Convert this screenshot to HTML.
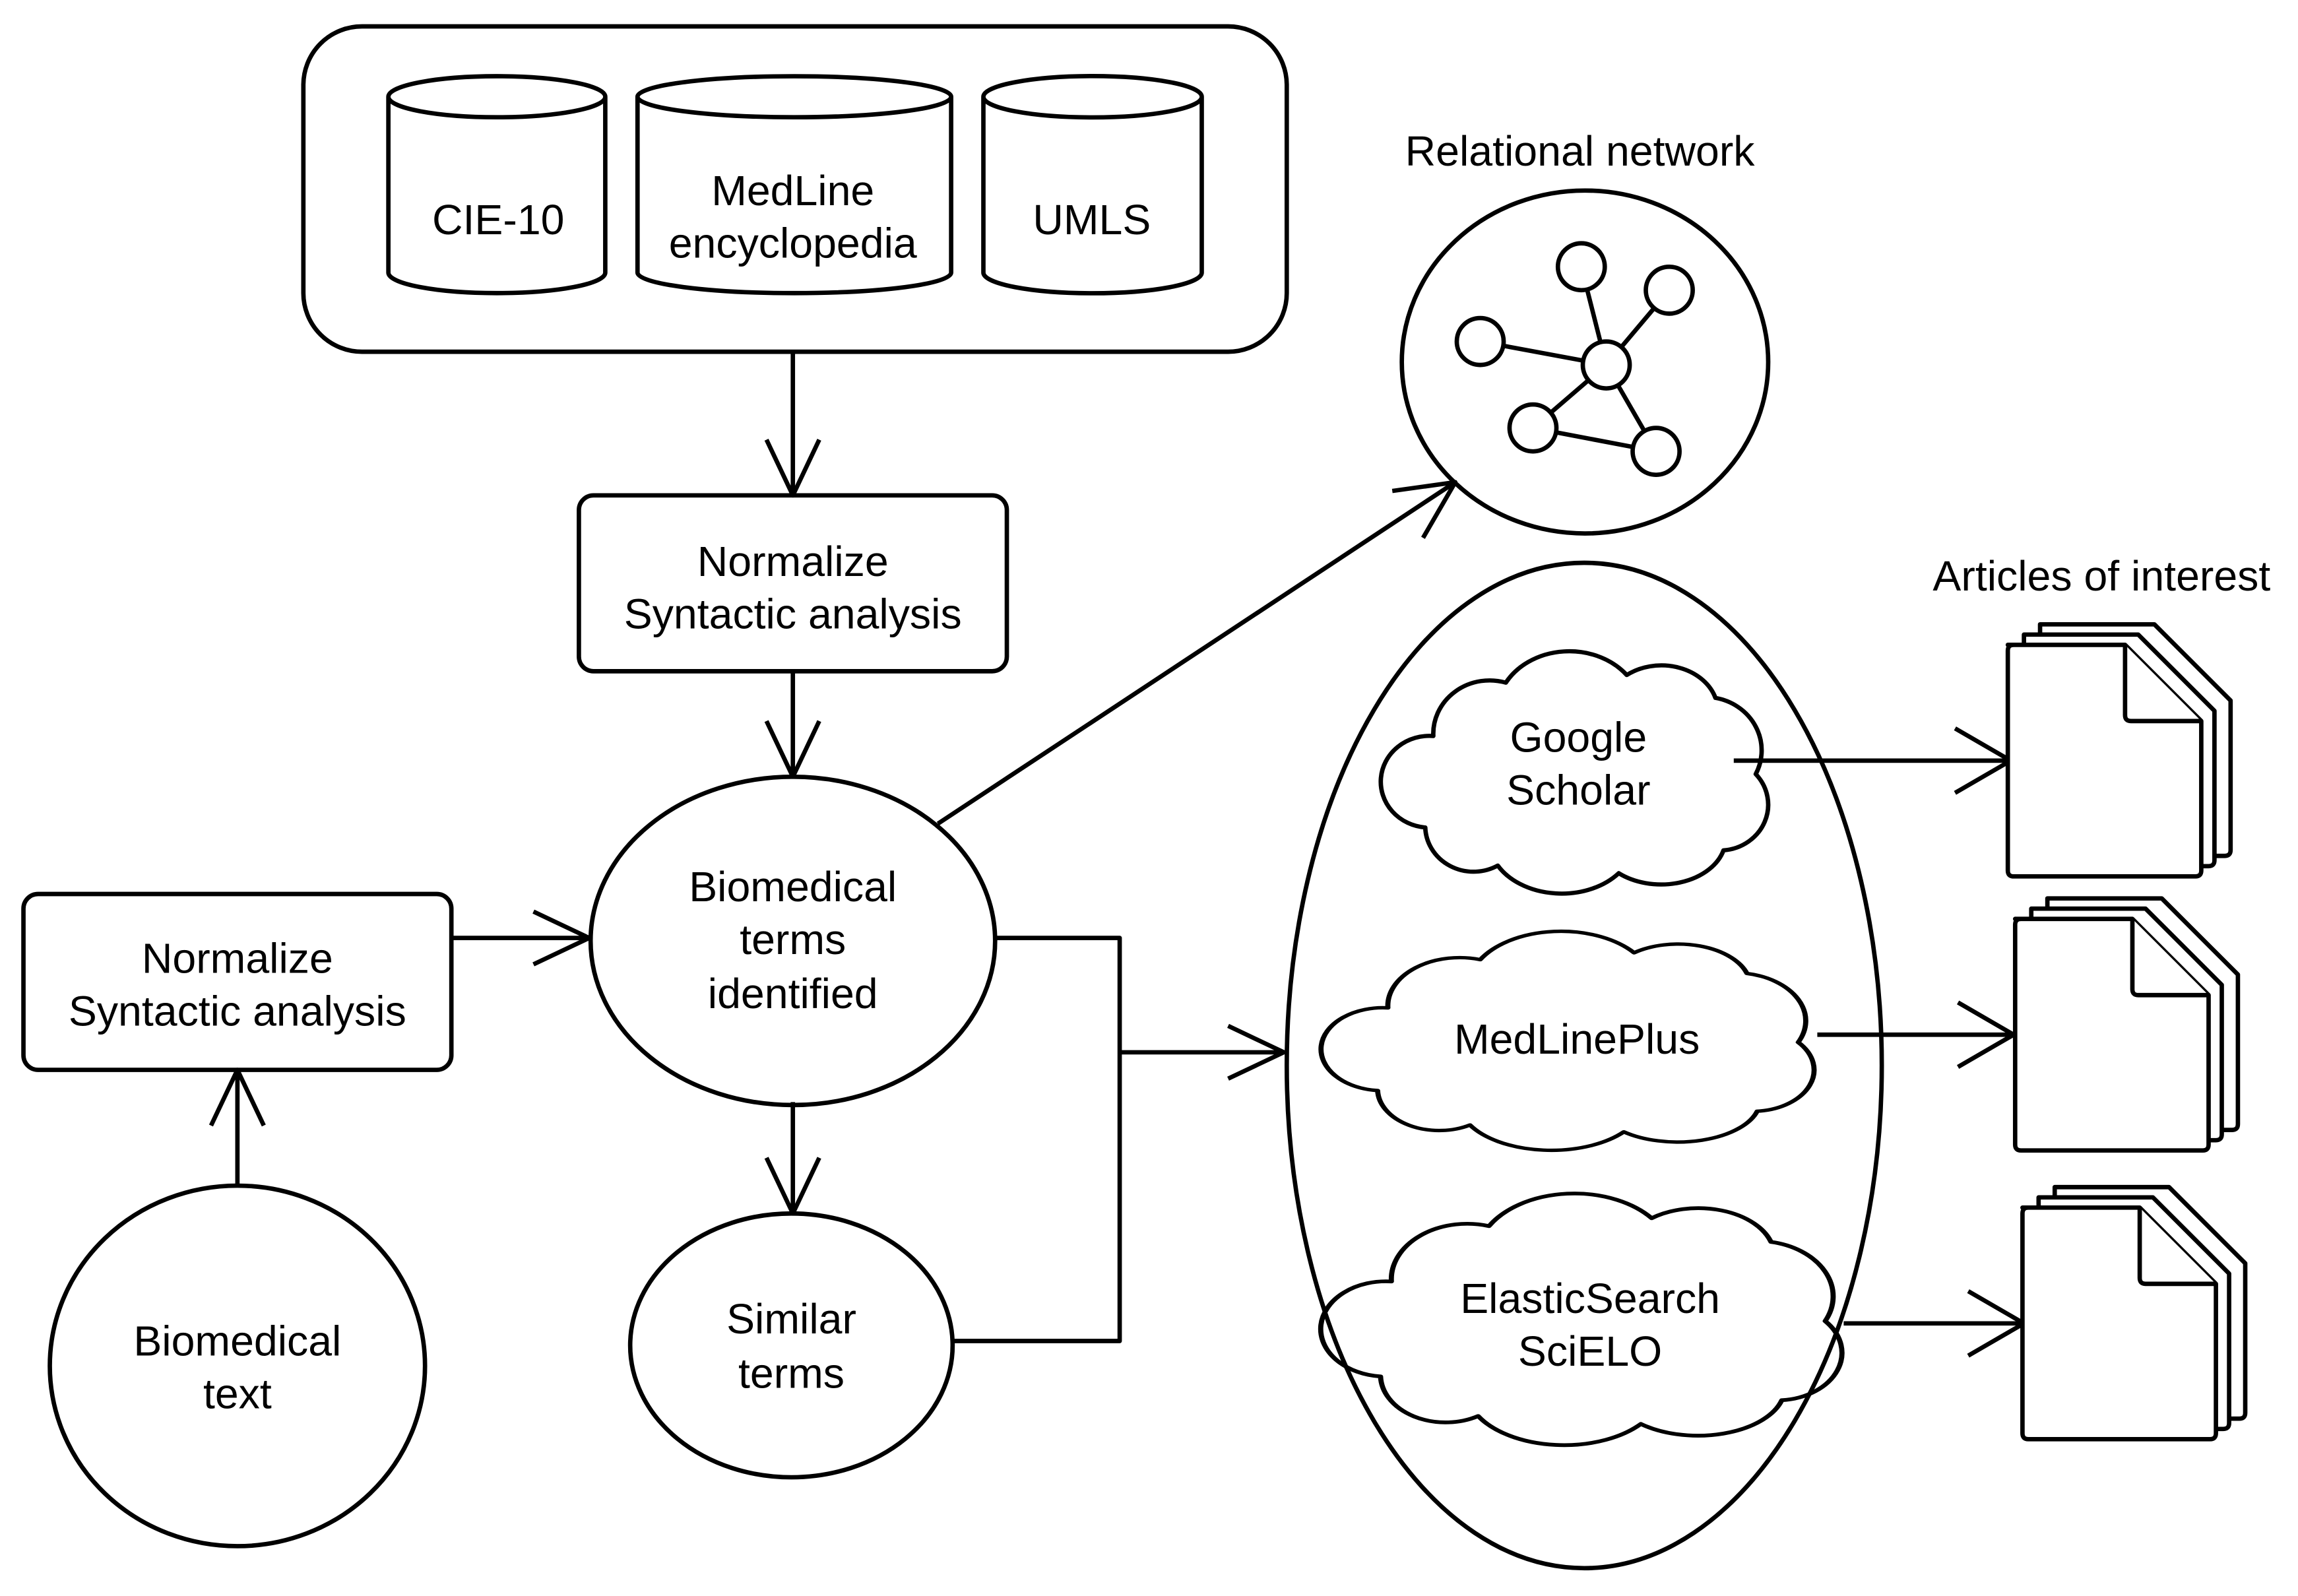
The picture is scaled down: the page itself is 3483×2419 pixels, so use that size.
<!DOCTYPE html>
<html><head><style>html,body{margin:0;padding:0;background:#fff}svg{display:block}
text{font-family:"Liberation Sans",Arial,sans-serif;font-size:29px;fill:#000;text-anchor:middle;dominant-baseline:central}</style></head>
<body>
<svg width="3483" height="2419" viewBox="0 0 1568 1089" xmlns="http://www.w3.org/2000/svg">
<g fill="none" stroke="#000" stroke-width="3" stroke-linejoin="round">
<rect x="207" y="18" width="671" height="222" rx="40"/>
<path d="M265,66 V186 A74,14 0 0 0 413,186 V66 A74,14 0 0 0 265,66 A74,14 0 0 0 413,66" fill="#fff"/>
<path d="M435,66 V186 A107,14 0 0 0 649,186 V66 A107,14 0 0 0 435,66 A107,14 0 0 0 649,66" fill="#fff"/>
<path d="M671,66 V186 A74,14 0 0 0 820,186 V66 A74,14 0 0 0 671,66 A74,14 0 0 0 820,66" fill="#fff"/>
<path d="M541,240 V338 M523,300 L541,338 L559,300"/>
<rect x="395" y="338" width="292" height="120" rx="10"/>
<path d="M541,458 V530 M523,492 L541,530 L559,492"/>
<ellipse cx="541" cy="642" rx="138" ry="112"/>
<rect x="16" y="610" width="292" height="120" rx="10"/>
<path d="M308,640 H402 M364,622 L402,640 L364,658"/>
<ellipse cx="162" cy="932" rx="128" ry="123"/>
<path d="M162,808 V730 M144,768 L162,730 L180,768"/>
<path d="M541,752 V828 M523,790 L541,828 L559,790"/>
<ellipse cx="540" cy="918" rx="110" ry="90"/>
<path d="M679,640 H764 V915 H651 M764,718 H876 M838,700 L876,718 L838,736"/>
<ellipse cx="1081" cy="727" rx="203" ry="343"/>
<path d="M640,562 L993,329 M950,335 L993,329 L971,367"/>
<ellipse cx="1081.5" cy="247" rx="125" ry="117"/>
<path d="M1096,249 L1079,182 M1096,249 L1139,198 M1096,249 L1010,233 M1096,249 L1046,292 M1096,249 L1130,308 M1046,292 L1130,308"/>
<g fill="#fff">
<circle cx="1096" cy="249" r="16"/><circle cx="1079" cy="182" r="16"/><circle cx="1139" cy="198" r="16"/>
<circle cx="1010" cy="233" r="16"/><circle cx="1046" cy="292" r="16"/><circle cx="1130" cy="308" r="16"/>
</g>
<g transform="translate(945,445) scale(2.75,2.6)" stroke-width="1.1">
<path d="M 12,22 A 14,14 0 0 1 30,8 A 18,16 0 0 1 60,6 A 14,12 0 0 1 82,12 A 14,14 0 0 1 92,32 A 12,12 0 0 1 84,52 A 16,12 0 0 1 58,58 A 18,14 0 0 1 28,56 A 12,12 0 0 1 10,46 A 12,12 0 0 1 12,22 Z"/>
</g>
<g transform="translate(905,636) scale(3.5,2.35)" stroke-width="1.0">
<path d="M 12,22 A 14,14 0 0 1 30,8 A 18,16 0 0 1 60,6 A 14,12 0 0 1 82,12 A 14,14 0 0 1 92,32 A 12,12 0 0 1 84,52 A 16,12 0 0 1 58,58 A 18,14 0 0 1 28,56 A 12,12 0 0 1 10,46 A 12,12 0 0 1 12,22 Z"/>
</g>
<g transform="translate(905,815) scale(3.7,2.7)" stroke-width="0.95">
<path d="M 12,22 A 14,14 0 0 1 30,8 A 18,16 0 0 1 60,6 A 14,12 0 0 1 82,12 A 14,14 0 0 1 92,32 A 12,12 0 0 1 84,52 A 16,12 0 0 1 58,58 A 18,14 0 0 1 28,56 A 12,12 0 0 1 10,46 A 12,12 0 0 1 12,22 Z"/>
</g>
<path d="M1183,519 H1372 M1334,497 L1372,519 L1334,541"/>
<path d="M1240,706 H1374 M1336,684 L1374,706 L1336,728"/>
<path d="M1258,903 H1381 M1343,881 L1381,903 L1343,925"/>
<g fill="#fff">
<g transform="translate(1370,440)">
<path d="M22,-14 H100 L152,38 V140 Q152,144 148,144 H26 Q22,144 22,140 Z"/>
<path d="M11,-7 H89 L141,45 V147 Q141,151 137,151 H15 Q11,151 11,147 Z"/>
<path d="M0,0 H80 L132,52 V154 Q132,158 128,158 H4 Q0,158 0,154 V4 Q0,0 4,0 Z"/>
<path d="M80,0 V48 Q80,52 84,52 H132"/>
</g>
<g transform="translate(1375,627)">
<path d="M22,-14 H100 L152,38 V140 Q152,144 148,144 H26 Q22,144 22,140 Z"/>
<path d="M11,-7 H89 L141,45 V147 Q141,151 137,151 H15 Q11,151 11,147 Z"/>
<path d="M0,0 H80 L132,52 V154 Q132,158 128,158 H4 Q0,158 0,154 V4 Q0,0 4,0 Z"/>
<path d="M80,0 V48 Q80,52 84,52 H132"/>
</g>
<g transform="translate(1380,824)">
<path d="M22,-14 H100 L152,38 V140 Q152,144 148,144 H26 Q22,144 22,140 Z"/>
<path d="M11,-7 H89 L141,45 V147 Q141,151 137,151 H15 Q11,151 11,147 Z"/>
<path d="M0,0 H80 L132,52 V154 Q132,158 128,158 H4 Q0,158 0,154 V4 Q0,0 4,0 Z"/>
<path d="M80,0 V48 Q80,52 84,52 H132"/>
</g>
</g>
</g>
<text x="340" y="150">CIE-10</text>
<text x="541" y="130">MedLine</text><text x="541" y="166">encyclopedia</text>
<text x="745" y="150">UMLS</text>
<text x="541" y="383">Normalize</text><text x="541" y="419">Syntactic analysis</text>
<text x="162" y="654">Normalize</text><text x="162" y="690">Syntactic analysis</text>
<text x="541" y="605">Biomedical</text><text x="541" y="641">terms</text><text x="541" y="678">identified</text>
<text x="162" y="915">Biomedical</text><text x="162" y="951">text</text>
<text x="540" y="900">Similar</text><text x="540" y="937">terms</text>
<text x="1078" y="103">Relational network</text>
<text x="1434" y="393">Articles of interest</text>
<text x="1077" y="503">Google</text><text x="1077" y="539">Scholar</text>
<text x="1076" y="709">MedLinePlus</text>
<text x="1085" y="886">ElasticSearch</text><text x="1085" y="922">SciELO</text>
</svg>
</body></html>
